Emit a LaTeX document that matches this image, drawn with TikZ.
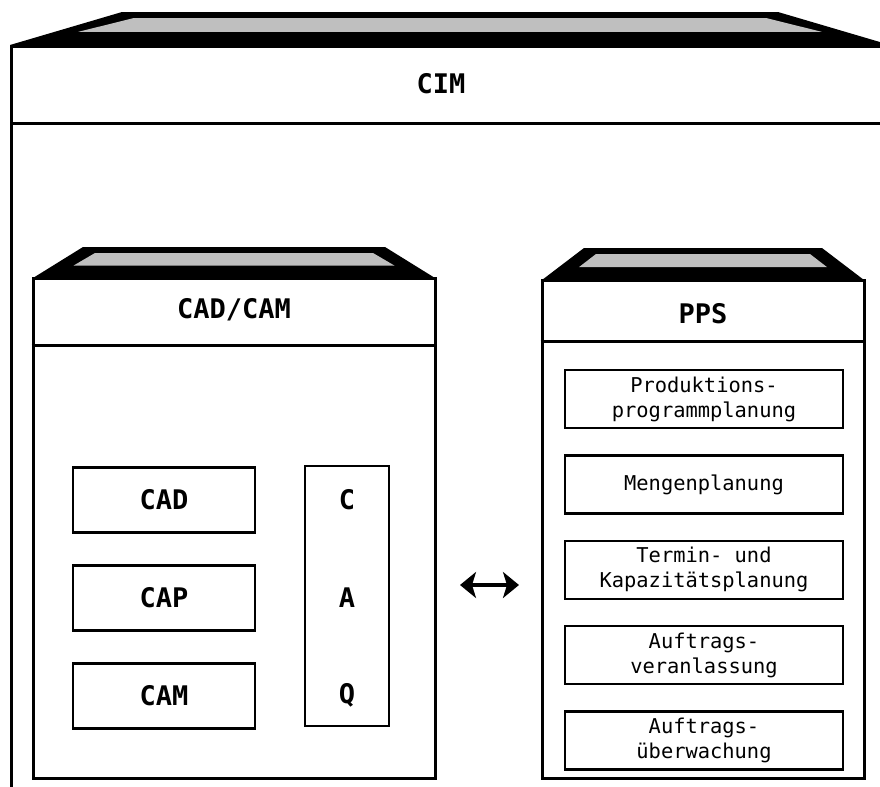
\documentclass[tikz,border=0pt]{standalone}
\usepackage{fontspec}
\newfontfamily\plotfont{DejaVu Sans Mono}
\usetikzlibrary{arrows.meta, positioning, calc}
% roof of a panel: left x, right x, bottom y, top y, inset
\newcommand{\roofbar}[5]{%
  \fill[black] (#1,#3) -- (#1+#5,#4) -- (#2-#5,#4) -- (#2,#3) -- cycle;
  \fill[gray!50] (#1+#5+12,#4+6) -- (#2-#5-12,#4+6)
    -- (#2-0.45*#5-18,#4+0.6*#3-0.6*#4) -- (#1+0.45*#5+18,#4+0.6*#3-0.6*#4) -- cycle;
}

\begin{document}
\begin{tikzpicture}[
  x=0.5pt, y=-0.5pt,
  node distance=12.5pt,
  panel/.style={draw, line width=1.5pt, inner sep=0pt},
  headline/.style={line width=1.5pt},
  big/.style={font=\plotfont\bfseries\fontsize{13.5}{16}\selectfont},
  small/.style={font=\plotfont\fontsize{10.2}{12.5}\selectfont, align=center},
  unit/.style={draw, line width=1.2pt, inner sep=0pt, big,
               minimum width=91pt, minimum height=32.5pt},
  ppsbox/.style={draw, line width=1.2pt, inner sep=0pt, small,
                 minimum width=139pt, minimum height=29pt},
  link/.style={{Stealth[length=8pt,width=13pt,inset=2pt]}-{Stealth[length=8pt,width=13pt,inset=2pt]}, line width=1.8pt},
]
\useasboundingbox (0,0) rectangle (880,787);
\clip (0,0) rectangle (880,787);

% CIM frame
\roofbar{10}{890}{45}{12}{112}
\node[panel, minimum width=445pt, minimum height=400pt, anchor=north west] (cim) at (10,45) {};
\draw[headline] ($(cim.north west)+(0,78)$) -- ($(cim.north east)+(0,78)$);
\node[big] (cimlabel) at (441,84) {CIM};

% CAD/CAM
\roofbar{33}{435}{278}{247}{50}
\node[panel, minimum width=201pt, minimum height=250pt] (cadcam) at (234,528) {};
\draw[headline] ($(cadcam.north west)+(0,69)$) -- ($(cadcam.north east)+(0,69)$);
\node[big] (cadcamlabel) at (234,310) {CAD/CAM};

\node[unit] (cad) at (164,500) {CAD};
\node[unit, below=15.25pt of cad] (cap) {CAP};
\node[unit, below=15.25pt of cap] (cam) {CAM};
\node[draw, line width=1.2pt, inner sep=0pt, minimum width=42pt, minimum height=130pt] (caq) at (347,596) {};
\node[big] at (caq |- cad) {C};
\node[big] at (caq |- cap) {A};
\node[big] at (caq |- cam) {Q};

% PPS
\roofbar{542}{864}{280}{248}{42}
\node[panel, minimum width=161pt, minimum height=249pt] (pps) at (703,529) {};
\draw[headline] ($(pps.north west)+(0,63)$) -- ($(pps.north east)+(0,63)$);
\node[big] (ppslabel) at (703,314) {PPS};

\node[ppsbox] (prog) at (704,399) {Produktions-\\programmplanung};
\node[ppsbox, below=of prog] (menge) {Mengenplanung};
\node[ppsbox, below=of menge] (termin) {Termin- und\\Kapazitätsplanung};
\node[ppsbox, below=of termin] (veran) {Auftrags-\\veranlassung};
\node[ppsbox, below=of veran] (ueber) {Auftrags-\\überwachung};

% link between the two systems
\coordinate (linkL) at (460,585);
\coordinate (linkR) at (519,585);
\draw[link] (linkL) -- (linkR);

\end{tikzpicture}
\end{document}
